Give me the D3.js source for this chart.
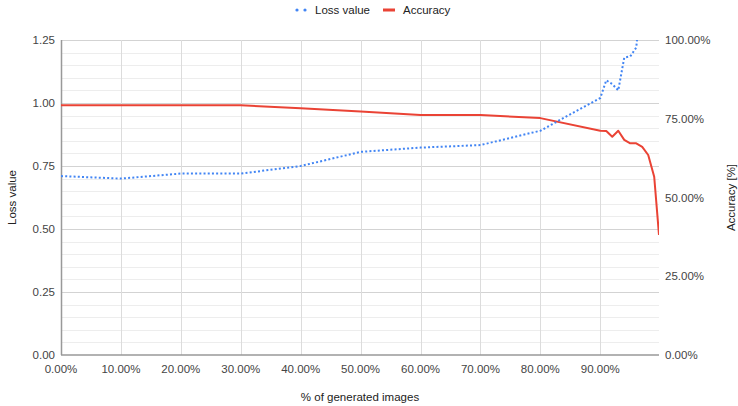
<!DOCTYPE html>
<html>
<head>
<meta charset="utf-8">
<script src="https://cdn.jsdelivr.net/npm/d3@7"></script>
<style>
  body { margin: 0; background: #fff; }
  text { font-family: "Liberation Sans", Arial, sans-serif; }
</style>
</head>
<body>
<div id="chart"><svg></svg></div>
<script>
// x positions (% of generated images)
const generatedPct = [0, 10, 20, 30, 40, 50, 60, 70, 80, 90, 91, 92, 93, 94, 95, 96, 97, 98, 99, 99.8];
// left axis series
const lossValue = [0.71, 0.70, 0.72, 0.72, 0.75, 0.806, 0.823, 0.833, 0.89, 1.02, 1.09, 1.075, 1.05, 1.18, 1.185, 1.22, 1.45, 1.6, 1.75, 1.9];
// right axis series (%)
const accuracy = [79.3, 79.3, 79.3, 79.3, 78.3, 77.3, 76.2, 76.2, 75.2, 71.2, 71.1, 69.3, 71.2, 68.3, 67.2, 67.2, 66.1, 63.5, 56.6, 38.1];

const xTicks = [0, 10, 20, 30, 40, 50, 60, 70, 80, 90];
const lossTicks = [0, 0.25, 0.5, 0.75, 1.0, 1.25];
const accTicks = [0, 25, 50, 75, 100];

const W = 738, H = 406;
const margin = {top: 40, right: 79, bottom: 51, left: 61},
      width = W - margin.left - margin.right,
      height = H - margin.top - margin.bottom;

const root = d3.select("#chart svg")
    .attr("width", W)
    .attr("height", H);

const svg = root.append("g")
    .attr("transform", `translate(${margin.left},${margin.top})`);

// Scales
const x = d3.scaleLinear().domain([0, 99.8]).range([0, width]);
const yLoss = d3.scaleLinear().domain([0, 1.25]).range([height, 0]);
const yAcc = d3.scaleLinear().domain([0, 100]).range([height, 0]);

// Minor gridlines every 0.05
svg.append("g")
    .selectAll("line")
    .data(d3.range(0, 1.2501, 0.05).filter(v => Math.abs(Math.round(v / 0.25) * 0.25 - v) > 1e-6))
    .join("line")
    .attr("x1", 0).attr("x2", width)
    .attr("y1", d => Math.round(yLoss(d)) + 0.5)
    .attr("y2", d => Math.round(yLoss(d)) + 0.5)
    .attr("stroke", "#ededed");

// Major gridlines
svg.append("g")
    .selectAll("line")
    .data(lossTicks.filter(d => d > 0))
    .join("line")
    .attr("x1", 0).attr("x2", width)
    .attr("y1", d => Math.round(yLoss(d)) + 0.5)
    .attr("y2", d => Math.round(yLoss(d)) + 0.5)
    .attr("stroke", "#d3d3d3");

// Vertical gridlines
svg.append("g")
    .selectAll("line")
    .data(xTicks.filter(d => d > 0))
    .join("line")
    .attr("x1", d => Math.round(x(d)) + 0.5)
    .attr("x2", d => Math.round(x(d)) + 0.5)
    .attr("y1", 0).attr("y2", height)
    .attr("stroke", "#dcdcdc");

// Axis lines
svg.append("line")
    .attr("x1", 0.5).attr("x2", 0.5)
    .attr("y1", 0).attr("y2", height)
    .attr("stroke", "#999").attr("stroke-width", 1.5);

svg.append("line")
    .attr("x1", 0).attr("x2", width)
    .attr("y1", height).attr("y2", height)
    .attr("stroke", "#999").attr("stroke-width", 1.5);

// Clip lines to plot area
root.append("defs").append("clipPath")
    .attr("id", "plot-clip")
  .append("rect")
    .attr("x", 0).attr("y", 0)
    .attr("width", width).attr("height", height);

const lossLine = d3.line()
    .x((d, i) => x(generatedPct[i]))
    .y(d => yLoss(d));

const accLine = d3.line()
    .x((d, i) => x(generatedPct[i]))
    .y(d => yAcc(d));

const lines = svg.append("g").attr("clip-path", "url(#plot-clip)");

lines.append("path")
    .datum(accuracy)
    .attr("fill", "none")
    .attr("stroke", "#ea4335")
    .attr("stroke-width", 2)
    .attr("stroke-linejoin", "round")
    .attr("d", accLine);

lines.append("path")
    .datum(lossValue)
    .attr("fill", "none")
    .attr("stroke", "#4285f4")
    .attr("stroke-width", 2)
    .attr("stroke-dasharray", "2,2.2")
    .attr("d", lossLine);

// Tick labels
svg.append("g")
    .selectAll("text")
    .data(lossTicks)
    .join("text")
    .attr("x", -6)
    .attr("y", d => yLoss(d))
    .attr("dy", "0.35em")
    .attr("text-anchor", "end")
    .style("font-size", "11.5px")
    .attr("fill", "#444")
    .text(d => d3.format(".2f")(d));

svg.append("g")
    .selectAll("text")
    .data(accTicks)
    .join("text")
    .attr("x", width + 6)
    .attr("y", d => yAcc(d))
    .attr("dy", "0.35em")
    .attr("text-anchor", "start")
    .style("font-size", "11.5px")
    .attr("fill", "#444")
    .text(d => d3.format(".2f")(d) + "%");

svg.append("g")
    .selectAll("text")
    .data(xTicks)
    .join("text")
    .attr("x", d => x(d))
    .attr("y", height + 14)
    .attr("dy", "0.35em")
    .attr("text-anchor", "middle")
    .style("font-size", "11.5px")
    .attr("fill", "#444")
    .text(d => d3.format(".2f")(d) + "%");

// Axis titles
root.append("text")
    .attr("x", margin.left + width / 2)
    .attr("y", 397)
    .attr("dy", "0.35em")
    .attr("text-anchor", "middle")
    .style("font-size", "11.5px")
    .attr("fill", "#222")
    .text("% of generated images");

root.append("text")
    .attr("transform", `translate(12,${margin.top + height / 2}) rotate(-90)`)
    .attr("dy", "0.35em")
    .attr("text-anchor", "middle")
    .style("font-size", "11.5px")
    .attr("fill", "#222")
    .text("Loss value");

root.append("text")
    .attr("transform", `translate(731,${margin.top + height / 2}) rotate(-90)`)
    .attr("dy", "0.35em")
    .attr("text-anchor", "middle")
    .style("font-size", "11.5px")
    .attr("fill", "#222")
    .text("Accuracy [%]");

// Legend
const legend = root.append("g").attr("transform", "translate(0,10)");

legend.selectAll("circle")
    .data([297, 305])
    .join("circle")
    .attr("cx", d => d).attr("cy", 0)
    .attr("r", 1.6)
    .attr("fill", "#4285f4");

legend.append("text")
    .attr("x", 315).attr("y", 0).attr("dy", "0.35em")
    .style("font-size", "11.5px")
    .attr("fill", "#222")
    .text("Loss value");

legend.append("rect")
    .attr("x", 383).attr("y", -1.5)
    .attr("width", 12).attr("height", 3)
    .attr("fill", "#ea4335");

legend.append("text")
    .attr("x", 403).attr("y", 0).attr("dy", "0.35em")
    .style("font-size", "11.5px")
    .attr("fill", "#222")
    .text("Accuracy");
</script>
</body>
</html>
